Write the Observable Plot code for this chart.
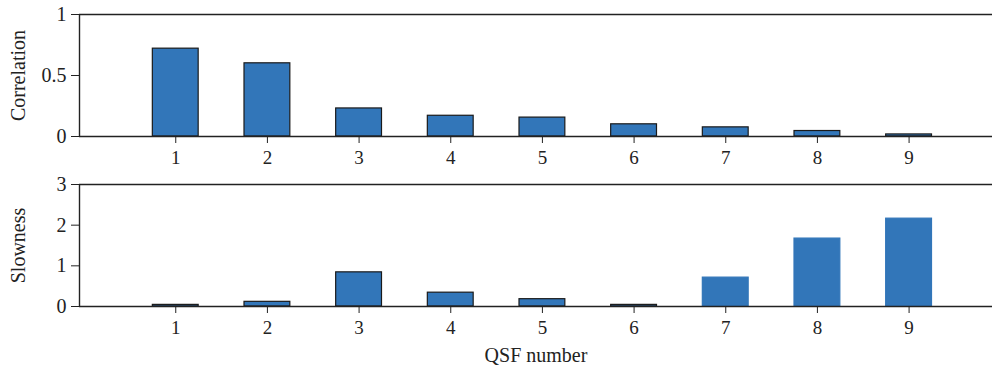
<!DOCTYPE html>
<html>
<head>
<meta charset="utf-8">
<script src="https://cdn.jsdelivr.net/npm/d3@7"></script>
<script src="https://cdn.jsdelivr.net/npm/@observablehq/plot@0.6"></script>
<style>
  html, body { margin: 0; padding: 0; background: #fff; }
  #chart svg { display: block; }
</style>
</head>
<body>
<div id="chart"></div>
<script>
const qsf = [1, 2, 3, 4, 5, 6, 7, 8, 9];
const correlation = [0.72, 0.60, 0.23, 0.17, 0.155, 0.10, 0.075, 0.045, 0.017];
const slowness = [0.04, 0.115, 0.84, 0.34, 0.18, 0.04, 0.71, 1.67, 2.16];
const corrTicks = [0, 0.5, 1];
const slowTicks = [0, 1, 2, 3];
const outlined = [true, true, true, true, true, true, false, false, false];

const blue = "#3276b9";
const ink = "#222";
const font = "'Liberation Serif', 'DejaVu Serif', serif";
const halfBar = 0.25;

function panel(values, ticks, yDomain, label, opts) {
  const data = qsf.map((q, i) => ({q, v: values[i], outline: opts.outline ? opts.outline[i] : true}));
  return Plot.plot({
    width: 992,
    height: opts.height,
    marginTop: 14,
    marginBottom: opts.marginBottom,
    marginLeft: 79,
    marginRight: 0,
    style: {fontFamily: font, fontSize: "19px", color: ink, background: "#fff"},
    x: {domain: [-0.05, 9.91]},
    y: {domain: yDomain},
    marks: [
      Plot.rect(data, {
        x1: d => d.q - halfBar,
        x2: d => d.q + halfBar,
        y1: 0,
        y2: "v",
        fill: blue,
        stroke: d => d.outline ? "#1a1a1a" : blue,
        strokeWidth: 1.2
      }),
      Plot.ruleY([yDomain[1]], {stroke: ink, strokeWidth: 1.4}),
      Plot.ruleY([0], {stroke: ink, strokeWidth: 1.4}),
      Plot.ruleX([-0.05], {stroke: ink, strokeWidth: 1.4}),
      Plot.axisY({
        ticks: ticks,
        tickFormat: d => String(d),
        tickSize: 8,
        tickPadding: 5,
        label: null,
        fontSize: 20,
        stroke: ink
      }),
      Plot.text([label], {
        frameAnchor: "left",
        textAnchor: "middle",
        lineAnchor: "middle",
        dx: -61,
        rotate: -90,
        fontSize: 20,
        fill: ink
      }),
      Plot.axisX({
        ticks: qsf,
        tickFormat: d => String(d),
        tickSize: 7,
        tickPadding: 7,
        label: null,
        fontSize: 19,
        stroke: ink
      }),
      ...(opts.xLabel ? [Plot.text([opts.xLabel], {
        frameAnchor: "bottom",
        textAnchor: "middle",
        lineAnchor: "middle",
        dy: 49,
        fontSize: 20,
        fill: ink
      })] : [])
    ]
  });
}

const chart = document.getElementById("chart");
chart.append(panel(correlation, corrTicks, [0, 1], "Correlation", {height: 170, marginBottom: 34, xLabel: null}));
chart.append(panel(slowness, slowTicks, [0, 3], "Slowness", {height: 202, marginBottom: 66, xLabel: "QSF number", outline: outlined}));
</script>
</body>
</html>
